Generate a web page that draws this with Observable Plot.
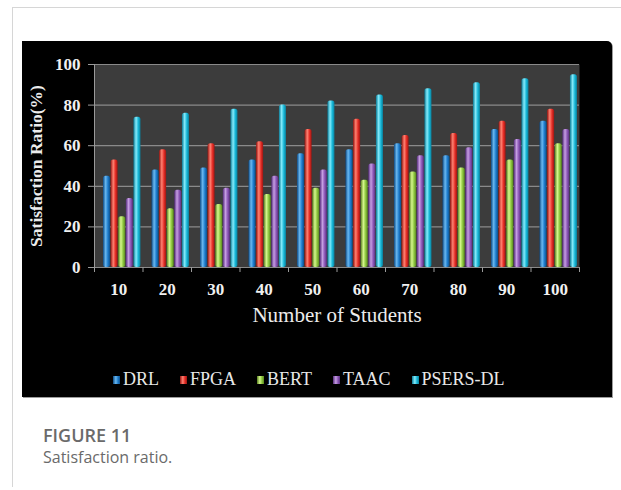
<!DOCTYPE html>
<html>
<head>
<meta charset="utf-8">
<script src="https://cdn.jsdelivr.net/npm/d3@7"></script>
<script src="https://cdn.jsdelivr.net/npm/@observablehq/plot@0.6"></script>
<style>
  body { margin: 0; background: #fff; }
  #page { position: relative; width: 621px; height: 490px; overflow: hidden; background: #fff; }
  .rule-top { position: absolute; left: 12px; top: 7px; width: 609px; height: 1px; background: #d6d6d6; }
  .rule-left { position: absolute; left: 12px; top: 7px; width: 1px; height: 480px; background: #d6d6d6; }
  #panel { position: absolute; left: 22px; top: 41px; width: 590px; height: 356px; background: #000;
           border-top-right-radius: 5px; box-shadow: 1px 1px 0 #9c9c9c; }
  #panel svg.chart { position: absolute; left: 0; top: 0; }
  #legend { position: absolute; left: 91px; top: 328px; display: flex; align-items: center;
            font-family: "Liberation Serif", serif; font-size: 18px; color: #e8e8e8; white-space: nowrap; }
  #legend .item { display: flex; align-items: center; margin-right: 21px; }
  #legend .sw { width: 7px; height: 8px; margin-right: 3px; }
  .fig-label { position: absolute; left: 43px; top: 423px; font-family: "Open Sans", sans-serif;
               font-weight: 600; font-size: 18px; color: #6a6a6a; }
  .fig-caption { position: absolute; left: 43px; top: 446px; font-family: "Open Sans", sans-serif;
                 font-size: 16px; color: #6a6a6a; }
</style>
</head>
<body>
<div id="page">
  <div class="rule-top"></div>
  <div class="rule-left"></div>
  <div id="panel"><div id="legend"></div></div>
  <div class="fig-label">FIGURE 11</div>
  <div class="fig-caption">Satisfaction ratio.</div>
</div>
<script>
// Satisfaction ratio (%) by number of students, for each method
const students = ["10", "20", "30", "40", "50", "60", "70", "80", "90", "100"];
const series = ["DRL", "FPGA", "BERT", "TAAC", "PSERS-DL"];
const drl   = [45, 48, 49, 53, 56, 58, 61, 55, 68, 72];
const fpga  = [53, 58, 61, 62, 68, 73, 65, 66, 72, 78];
const bert  = [25, 29, 31, 36, 39, 43, 47, 49, 53, 61];
const taac  = [34, 38, 39, 45, 48, 51, 55, 59, 63, 68];
const psers = [74, 76, 78, 80, 82, 85, 88, 91, 93, 95];
const yTicks = [0, 20, 40, 60, 80, 100];

// cylinder shading: dark edge, highlight, base, dark edge
const shades = [
  ["#0d4b86", "#6ab8f0", "#1d7ccc", "#0e4f8c"],
  ["#96130f", "#ff8272", "#e42d26", "#9a1612"],
  ["#567f1c", "#d6f78e", "#8cc63e", "#5a861f"],
  ["#562c7c", "#c59ee2", "#8b55b5", "#58307f"],
  ["#087a96", "#86ebfb", "#16b6d6", "#0a7f9b"]
];

const values = [drl, fpga, bert, taac, psers];
const rows = students.flatMap((s, i) =>
  series.map((k, j) => ({student: s, series: k, i, j, value: values[j][i]}))
);

// gradient definitions shared by the bars
const ns = "http://www.w3.org/2000/svg";
const defsSvg = document.createElementNS(ns, "svg");
defsSvg.setAttribute("width", 0);
defsSvg.setAttribute("height", 0);
defsSvg.style.position = "absolute";
const defs = document.createElementNS(ns, "defs");
shades.forEach((c, j) => {
  const g = document.createElementNS(ns, "linearGradient");
  g.setAttribute("id", "bar-" + j);
  g.setAttribute("x1", "0"); g.setAttribute("x2", "1");
  g.setAttribute("y1", "0"); g.setAttribute("y2", "0");
  [[0, c[0]], [0.38, c[1]], [0.7, c[2]], [1, c[3]]].forEach(([o, col]) => {
    const s = document.createElementNS(ns, "stop");
    s.setAttribute("offset", o);
    s.setAttribute("stop-color", col);
    g.appendChild(s);
  });
  defs.appendChild(g);
});
defsSvg.appendChild(defs);
document.body.prepend(defsSvg);

// bar layout inside each group (in category units)
const groupStart = -0.315, barStep = 0.157, barWidth = 0.145;
const boundaries = d3.range(11).map(k => k - 0.5);
const centers = d3.range(students.length);

const chart = Plot.plot({
  width: 590,
  height: 356,
  marginLeft: 72,
  marginRight: 33,
  marginTop: 23,
  marginBottom: 130,
  style: {background: "transparent", color: "#eeeeee", fontFamily: "'Liberation Serif', serif", overflow: "visible"},
  x: {domain: [-0.5, 9.5], axis: null},
  y: {domain: [0, 100], axis: null},
  color: {type: "identity"},
  marks: [
    Plot.frame({fill: "#3c3c3c", stroke: null}),
    Plot.ruleY(yTicks, {stroke: "#8a8a8a", strokeWidth: 1.2}),
    Plot.ruleX([-0.5], {stroke: "#9a9a9a"}),
    Plot.rectY(rows, {
      x1: d => d.i + groupStart + d.j * barStep,
      x2: d => d.i + groupStart + d.j * barStep + barWidth,
      y1: 0,
      y2: "value",
      fill: d => `url(#bar-${d.j})`,
      rx: 2.5
    }),
    Plot.axisY({ticks: yTicks, tickSize: 6, tickFormat: () => "", color: "#9a9a9a", label: null}),
    Plot.axisY({ticks: yTicks, tickSize: 0, tickPadding: 14, fontSize: 17, fontWeight: "bold",
                color: "#f0f0f0", label: null}),
    Plot.axisX({ticks: boundaries, tickSize: 5, tickFormat: () => "", color: "#9a9a9a", label: null}),
    Plot.axisX({ticks: centers, tickSize: 0, tickPadding: 15, tickFormat: i => students[i],
                fontSize: 17, fontWeight: "bold", color: "#f0f0f0", label: null}),
    Plot.text(["Number of Students"], {frameAnchor: "bottom", dy: 48, fontSize: 21, fill: "#ececec",
                lineAnchor: "middle", textAnchor: "middle"}),
    Plot.text(["Satisfaction Ratio(%)"], {frameAnchor: "left", dx: -58, rotate: -90, fontSize: 17.5,
                fontWeight: "bold", fill: "#ececec", lineAnchor: "middle", textAnchor: "middle"})
  ]
});
chart.classList.add("chart");
const panel = document.getElementById("panel");
panel.prepend(chart);

// legend
const legend = document.getElementById("legend");
series.forEach((name, j) => {
  const item = document.createElement("div");
  item.className = "item";
  const sw = document.createElement("div");
  sw.className = "sw";
  const c = shades[j];
  sw.style.background = `linear-gradient(to right, ${c[0]}, ${c[1]} 40%, ${c[2]} 70%, ${c[3]})`;
  const label = document.createElement("span");
  label.textContent = name;
  item.appendChild(sw);
  item.appendChild(label);
  legend.appendChild(item);
});
</script>
</body>
</html>
